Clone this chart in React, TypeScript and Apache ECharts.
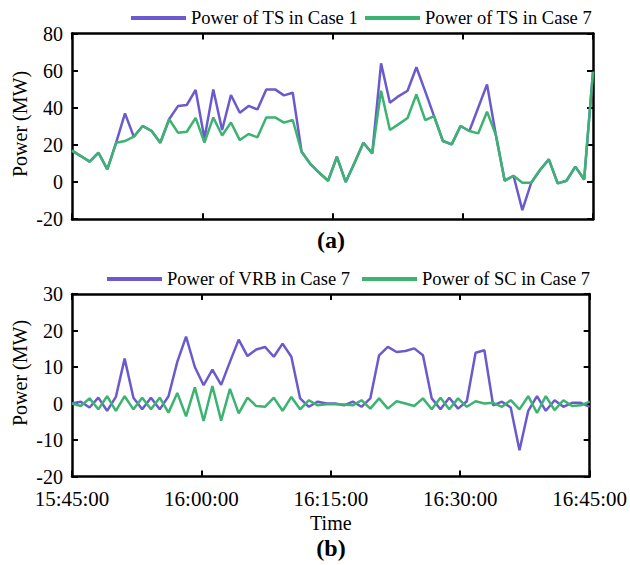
import React, { useEffect, useRef } from "react";
import * as echarts from "echarts";

const timeTicks = ["15:45:00", "16:00:00", "16:15:00", "16:30:00", "16:45:00"];

const tsCase1 = [16.9, 14.0, 11.0, 15.8, 6.8, 21.2, 37.0, 24.4, 30.2, 27.6,
  21.2, 33.8, 40.9, 41.5, 49.6, 23.5, 49.9, 28.0, 46.9, 37.3,
  41.0, 39.1, 49.9, 49.9, 46.7, 48.1, 16.3, 9.7, 5.0, 0.7,
  13.6, 0.0, 10.4, 21.2, 15.4, 63.9, 42.7, 46.3, 49.2, 61.8,
  48.8, 35.5, 22.1, 20.3, 30.2, 27.5, 40.0, 52.6, 25.3, 0.7,
  3.4, -15.1, -0.4, 6.5, 12.2, -0.7, 0.7, 8.3, 1.4, 59.4];

const tsCase7 = [16.9, 14.0, 11.0, 15.8, 6.8, 21.2, 22.1, 24.4, 30.2, 27.6,
  21.2, 33.8, 26.6, 27.1, 34.6, 21.2, 34.8, 25.1, 32.1, 22.6,
  25.9, 24.1, 34.8, 34.8, 32.0, 33.4, 16.3, 9.7, 5.0, 0.7,
  13.6, 0.0, 10.4, 21.2, 15.4, 49.2, 28.0, 31.2, 34.5, 47.2,
  33.4, 35.5, 22.1, 20.3, 30.2, 27.5, 26.2, 37.9, 25.3, 0.7,
  3.4, -0.4, -0.4, 6.5, 12.2, -0.7, 0.7, 8.3, 1.4, 59.4];

const vrbCase7 = [0, 0.5, -1.1, 1.6, -2.0, 1.8, 12.3, 1.6, -1.6, 1.6,
  -1.6, 2.0, 11.4, 18.3, 10.0, 5.0, 9.3, 5.1, 11.4, 17.5,
  13.0, 14.8, 15.5, 12.8, 16.4, 12.8, 1.4, -0.9, 0.5, 0,
  0, -0.5, 0.5, -0.9, 1.4, 13.2, 15.5, 14.1, 14.4, 15.1,
  13.2, 1.4, -1.6, 1.6, -1.4, 0.6, 13.9, 14.6, -0.5, 0.5,
  -1.1, -12.8, -2.0, 2.0, -2.0, 0.9, -0.9, 0.2, 0.2, -0.9];

const scCase7 = [0, -0.7, 1.4, -1.6, 2.0, -2.0, 2.0, -1.6, 1.6, -1.6,
  1.6, -2.5, 2.9, -3.5, 4.4, -4.8, 4.8, -4.7, 4.0, -2.7,
  1.6, -0.7, -0.9, 1.6, -2.0, 1.8, -1.6, 0.9, -0.5, -0.2,
  -0.2, -0.3, -0.5, 0.9, -1.4, 1.4, -1.4, 0.6, 0, -0.7,
  1.4, -1.6, 1.6, -1.6, 1.4, -0.9, 0.6, 0, 0.2, -0.9,
  0.9, -1.6, 2.0, -2.6, 2.0, -1.8, 0.9, -0.7, -0.5, 0.5];

const sampleIdx = tsCase7.map((_, i) => String(i));

const PURPLE = "#6a5acd";
const GREEN = "#3cb371";
const FONT = "'Times New Roman', 'Liberation Serif', serif";

export default function App() {
  const ref = useRef<HTMLDivElement>(null);
  useEffect(() => {
    if (!ref.current) return;
    const chart = echarts.init(ref.current, null, { renderer: "svg" });
    const axLine = { show: true, lineStyle: { color: "#000", width: 2.5 } };
    const tick = { show: true, inside: true, length: 6, lineStyle: { color: "#000", width: 2 } };
    const xVal = (grid: number, pos: string, labels: boolean) => ({
      type: "value", gridIndex: grid, position: pos, min: 0, max: 60, interval: 15,
      axisLine: { ...axLine, onZero: false }, axisTick: tick, splitLine: { show: false },
      axisLabel: {
        show: labels, fontSize: 21, fontFamily: FONT, color: "#000", margin: 12,
        formatter: (v: number) => timeTicks[Math.round(v / 15)],
      },
      ...(labels ? {
        name: "Time", nameLocation: "middle", nameGap: 36,
        nameTextStyle: { fontSize: 20, fontFamily: FONT, color: "#000" },
      } : {}),
    });
    const yVal = (grid: number, pos: string, min: number, max: number, interval: number, labels: boolean) => ({
      type: "value", gridIndex: grid, position: pos, min, max, interval,
      axisLine: { ...axLine, onZero: false }, axisTick: tick, splitLine: { show: false },
      axisLabel: { show: labels, fontSize: 20, fontFamily: FONT, color: "#000", margin: 9 },
    });
    const cat = (grid: number) => ({
      type: "category", gridIndex: grid, show: false, boundaryGap: false, data: sampleIdx,
    });
    const legend = (name: string, left: number, top: number) => ({
      data: [name], left, top, padding: 0, icon: "rect", itemWidth: 55, itemHeight: 4,
      textStyle: { fontSize: 18.5, fontFamily: FONT, color: "#000", lineHeight: 20 },
    });
    const line = (name: string, data: number[], color: string, xi: number, yi: number) => ({
      type: "line", name, data, xAxisIndex: xi, yAxisIndex: yi, symbol: "none",
      lineStyle: { color, width: 2.5 }, itemStyle: { color }, z: 3,
    });
    chart.setOption({
      animation: false,
      backgroundColor: "#fff",
      grid: [
        { left: 72, top: 33.5, width: 521, height: 185.7 },
        { left: 72, top: 294, width: 521, height: 182.5 },
      ],
      xAxis: [cat(0), xVal(0, "bottom", false), xVal(0, "top", false),
        cat(1), xVal(1, "bottom", true), xVal(1, "top", false)],
      yAxis: [yVal(0, "left", -20, 80, 20, true), yVal(0, "right", -20, 80, 20, false),
        yVal(1, "left", -20, 30, 10, true), yVal(1, "right", -20, 30, 10, false)],
      legend: [
        legend("Power of TS in Case 1", 131, 8),
        legend("Power of TS in Case 7", 365, 8),
        legend("Power of VRB in Case 7", 107, 269),
        legend("Power of SC in Case 7", 362, 269),
      ],
      series: [
        line("Power of TS in Case 1", tsCase1, PURPLE, 0, 0),
        line("Power of TS in Case 7", tsCase7, GREEN, 0, 0),
        line("Power of VRB in Case 7", vrbCase7, PURPLE, 3, 2),
        line("Power of SC in Case 7", scCase7, GREEN, 3, 2),
      ],
      graphic: [
        { type: "text", x: 20, y: 124, rotation: Math.PI / 2,
          style: { text: "Power (MW)", fontSize: 20, fontFamily: FONT, fill: "#000", align: "center", verticalAlign: "middle", textAlign: "center", textVerticalAlign: "middle" } },
        { type: "text", x: 20, y: 373, rotation: Math.PI / 2,
          style: { text: "Power (MW)", fontSize: 20, fontFamily: FONT, fill: "#000", align: "center", verticalAlign: "middle", textAlign: "center", textVerticalAlign: "middle" } },
        { type: "text", x: 331, y: 240,
          style: { text: "(a)", fontSize: 24, fontWeight: "bold", fontFamily: FONT, fill: "#000", align: "center", verticalAlign: "middle", textAlign: "center", textVerticalAlign: "middle" } },
        { type: "text", x: 331, y: 548,
          style: { text: "(b)", fontSize: 24, fontWeight: "bold", fontFamily: FONT, fill: "#000", align: "center", verticalAlign: "middle", textAlign: "center", textVerticalAlign: "middle" } },
      ],
    });
    return () => chart.dispose();
  }, []);
  return <div ref={ref} style={{ width: 630, height: 565, position: "absolute", left: 0, top: 0 }} />;
}
